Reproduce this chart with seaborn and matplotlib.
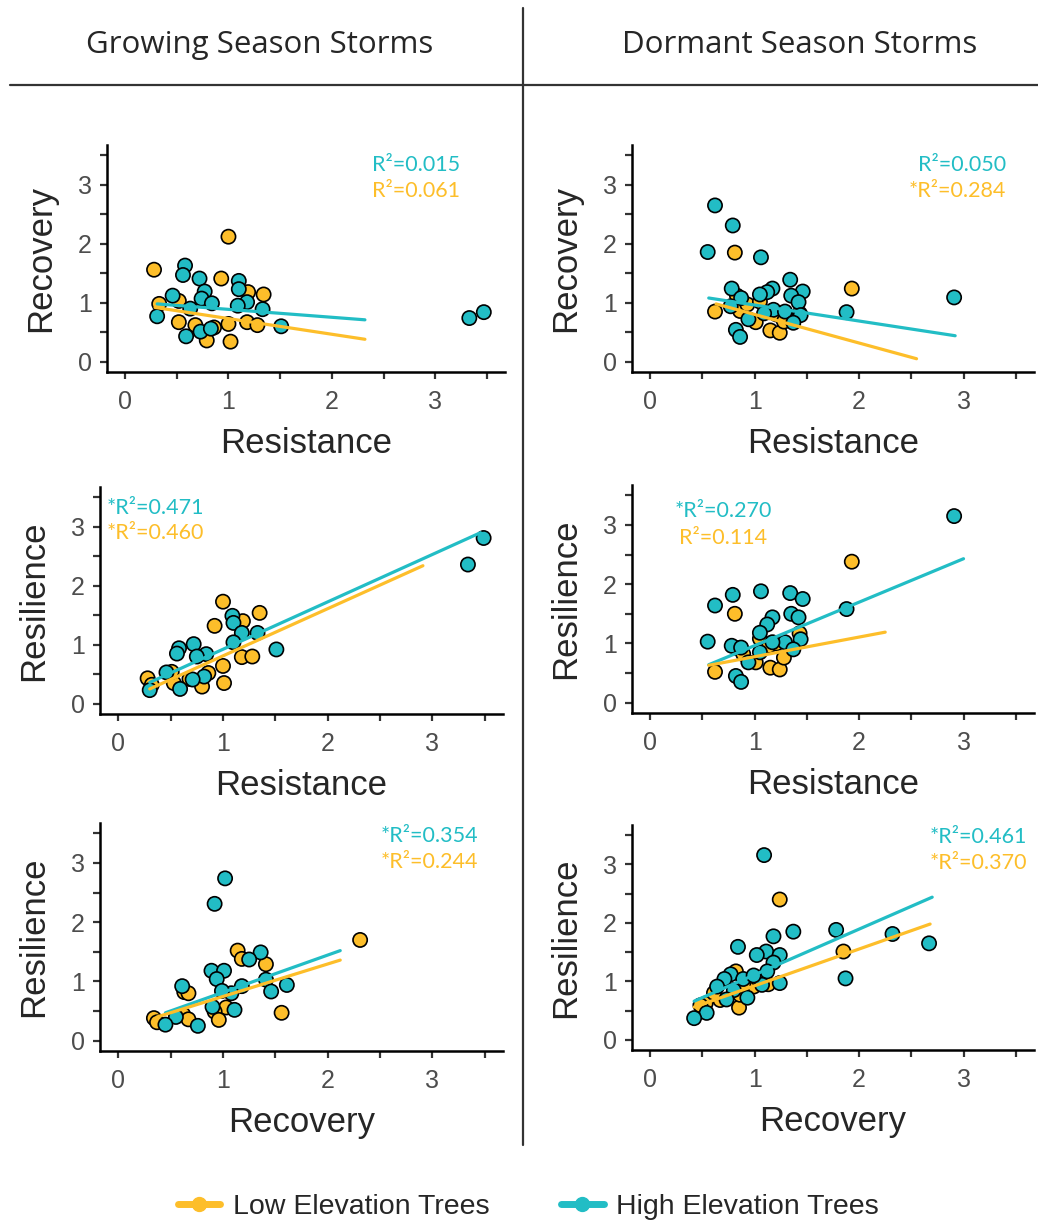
import numpy as np
import pandas as pd
import matplotlib
matplotlib.use("Agg")
import matplotlib.pyplot as plt
from matplotlib.lines import Line2D
import seaborn as sns

LOW = "#FDBE2A"
HIGH = "#22BDC5"

# --- Growing season: Resistance vs Recovery
p1_low_x = [0.28, 1.00, 0.33, 0.52, 0.93, 1.19, 1.34, 0.52, 0.68, 0.86, 0.79, 1.00, 1.02, 1.18, 1.28]
p1_low_y = [1.56, 2.12, 0.98, 1.03, 1.41, 1.18, 1.14, 0.67, 0.62, 0.58, 0.36, 0.64, 0.34, 0.67, 0.62]
p1_high_x = [0.31, 0.58, 0.56, 0.72, 0.46, 0.77, 0.74, 0.84, 0.63, 1.10, 1.10, 1.18, 1.09, 1.33, 1.51, 0.59, 0.73, 0.83, 3.33, 3.47]
p1_high_y = [0.77, 1.63, 1.47, 1.41, 1.12, 1.19, 1.07, 0.99, 0.90, 1.37, 1.23, 1.01, 0.95, 0.89, 0.60, 0.43, 0.51, 0.56, 0.74, 0.84]
p1_fit_high = ([0.31, 2.32], [0.98, 0.71])
p1_fit_low = ([0.29, 2.32], [0.92, 0.38])
p1_r2 = ["R\u00b2=0.015", "R\u00b2=0.061"]

# --- Dormant season: Resistance vs Recovery
p2_low_x = [0.81, 1.93, 0.62, 0.83, 0.86, 0.93, 1.05, 1.01, 1.14, 1.21, 1.15, 1.24, 1.43, 1.28]
p2_low_y = [1.85, 1.24, 0.85, 1.12, 0.86, 0.97, 1.02, 0.67, 0.84, 0.80, 0.53, 0.49, 0.82, 0.68]
p2_high_x = [0.62, 0.79, 0.55, 1.06, 1.34, 0.78, 1.46, 1.17, 1.12, 1.05, 1.35, 1.42, 0.87, 0.77, 1.88, 2.91, 0.82, 0.86, 0.94, 1.18, 1.29, 1.44, 1.37, 1.09]
p2_high_y = [2.65, 2.31, 1.86, 1.77, 1.39, 1.24, 1.19, 1.24, 1.18, 1.14, 1.12, 1.01, 1.08, 0.94, 0.84, 1.09, 0.54, 0.42, 0.72, 0.88, 0.85, 0.79, 0.66, 0.82]
p2_fit_high = ([0.56, 2.92], [1.08, 0.44])
p2_fit_low = ([0.63, 2.55], [0.98, 0.05])
p2_r2 = ["R\u00b2=0.050", "*R\u00b2=0.284"]

# --- Growing season: Resistance vs Resilience
p3_low_x = [1.00, 1.35, 1.19, 0.92, 1.18, 1.28, 1.00, 1.01, 0.80, 0.68, 0.53, 0.28, 0.32, 0.86, 0.51]
p3_low_y = [1.73, 1.54, 1.40, 1.32, 0.79, 0.80, 0.64, 0.35, 0.29, 0.42, 0.35, 0.43, 0.32, 0.52, 0.54]
p3_high_x = [3.49, 3.34, 1.09, 1.10, 1.18, 1.33, 1.10, 1.51, 0.72, 0.58, 0.56, 0.84, 0.75, 0.46, 0.82, 0.59, 0.30, 0.71]
p3_high_y = [2.81, 2.36, 1.49, 1.37, 1.20, 1.20, 1.04, 0.92, 1.01, 0.94, 0.85, 0.84, 0.80, 0.53, 0.46, 0.25, 0.23, 0.41]
p3_fit_high = ([0.30, 3.46], [0.36, 2.90])
p3_fit_low = ([0.30, 2.91], [0.25, 2.34])
p3_r2 = ["*R\u00b2=0.471", "*R\u00b2=0.460"]

# --- Dormant season: Resistance vs Resilience
p4_low_x = [1.93, 0.81, 0.62, 1.05, 1.14, 0.83, 1.21, 1.43, 1.01, 1.15, 1.24, 1.28, 0.89]
p4_low_y = [2.38, 1.50, 0.52, 1.08, 0.96, 0.92, 1.00, 1.17, 0.68, 0.59, 0.56, 0.76, 0.82]
p4_high_x = [2.91, 1.88, 0.55, 0.62, 0.79, 1.06, 1.34, 1.46, 1.35, 1.42, 1.17, 1.12, 1.05, 0.78, 0.87, 0.94, 0.82, 0.87, 1.44, 1.29, 1.17, 1.05, 1.37]
p4_high_y = [3.15, 1.58, 1.03, 1.64, 1.82, 1.88, 1.85, 1.75, 1.50, 1.44, 1.44, 1.32, 1.18, 0.96, 0.93, 0.68, 0.45, 0.35, 1.07, 1.02, 1.02, 0.85, 0.90]
p4_fit_high = ([0.56, 3.00], [0.64, 2.43])
p4_fit_low = ([0.56, 2.25], [0.63, 1.19])
p4_r2 = ["*R\u00b2=0.270", "R\u00b2=0.114"]

# --- Growing season: Recovery vs Resilience
p5_low_x = [2.31, 1.14, 1.18, 1.41, 0.63, 0.67, 0.62, 0.67, 1.03, 0.92, 0.96, 1.56, 0.34, 0.37]
p5_low_y = [1.70, 1.52, 1.38, 1.29, 0.82, 0.80, 0.44, 0.36, 0.56, 0.49, 0.35, 0.47, 0.38, 0.31]
p5_high_x = [1.02, 0.92, 1.36, 1.25, 0.89, 1.01, 0.94, 1.41, 1.61, 1.46, 1.18, 1.08, 0.99, 0.61, 0.90, 1.11, 0.55, 0.45, 0.76]
p5_high_y = [2.74, 2.31, 1.49, 1.37, 1.18, 1.18, 1.04, 1.03, 0.94, 0.83, 0.92, 0.80, 0.84, 0.92, 0.57, 0.52, 0.40, 0.27, 0.25]
p5_fit_high = ([0.45, 2.12], [0.47, 1.52])
p5_fit_low = ([0.37, 2.12], [0.40, 1.36])
p5_r2 = ["*R\u00b2=0.354", "*R\u00b2=0.244"]

# --- Dormant season: Recovery vs Resilience
p6_low_x = [1.24, 1.85, 0.82, 0.85, 1.13, 0.86, 0.99, 0.67, 0.53, 0.48, 0.61, 0.89, 1.02]
p6_low_y = [2.40, 1.51, 1.17, 0.55, 0.95, 0.77, 0.91, 0.68, 0.62, 0.59, 0.80, 0.94, 1.06]
p6_high_x = [1.09, 1.37, 1.78, 2.32, 2.67, 1.18, 0.84, 1.11, 1.02, 1.24, 1.18, 1.12, 1.87, 1.24, 1.07, 0.77, 0.71, 0.64, 0.80, 0.73, 0.93, 0.54, 0.42, 0.89, 0.99]
p6_high_y = [3.16, 1.85, 1.88, 1.81, 1.65, 1.77, 1.59, 1.51, 1.45, 1.45, 1.32, 1.17, 1.05, 0.97, 0.94, 1.12, 1.04, 0.91, 0.85, 0.69, 0.72, 0.46, 0.37, 1.04, 1.10]
p6_fit_high = ([0.42, 2.70], [0.66, 2.44])
p6_fit_low = ([0.42, 2.68], [0.56, 1.98])
p6_r2 = ["*R\u00b2=0.461", "*R\u00b2=0.370"]

col_titles = ["Growing Season Storms", "Dormant Season Storms"]
legend_labels = ["Low Elevation Trees", "High Elevation Trees"]

sns.set_theme(style="ticks")
plt.rcParams["font.family"] = ["Liberation Sans", "DejaVu Sans"]

W, H = 1038, 1224
fig = plt.figure(figsize=(W / 100, H / 100), dpi=100)


def px_axes(left, right, top, bottom):
    return fig.add_axes([left / W, 1 - bottom / H, (right - left) / W, (bottom - top) / H])


panels = [
    dict(box=(107, 505, 145, 372), low=(p1_low_x, p1_low_y), high=(p1_high_x, p1_high_y),
         fl=p1_fit_low, fh=p1_fit_high, r2=p1_r2, xl="Resistance", yl="Recovery",
         tpos=(3.24, 3.34, 2.89), ha="right"),
    dict(box=(632, 1034, 145, 372), low=(p2_low_x, p2_low_y), high=(p2_high_x, p2_high_y),
         fl=p2_fit_low, fh=p2_fit_high, r2=p2_r2, xl="Resistance", yl="Recovery",
         tpos=(3.41, 3.34, 2.89), ha="right"),
    dict(box=(100, 503, 487, 714), low=(p3_low_x, p3_low_y), high=(p3_high_x, p3_high_y),
         fl=p3_fit_low, fh=p3_fit_high, r2=p3_r2, xl="Resistance", yl="Resilience",
         tpos=(-0.11, 3.32, 2.90), ha="left"),
    dict(box=(632, 1034, 485, 713), low=(p4_low_x, p4_low_y), high=(p4_high_x, p4_high_y),
         fl=p4_fit_low, fh=p4_fit_high, r2=p4_r2, xl="Resistance", yl="Resilience",
         tpos=(0.70, 3.23, 2.78), ha="center"),
    dict(box=(100, 503, 823, 1051), low=(p5_low_x, p5_low_y), high=(p5_high_x, p5_high_y),
         fl=p5_fit_low, fh=p5_fit_high, r2=p5_r2, xl="Recovery", yl="Resilience",
         tpos=(3.44, 3.45, 3.01), ha="right"),
    dict(box=(632, 1034, 825, 1050), low=(p6_low_x, p6_low_y), high=(p6_high_x, p6_high_y),
         fl=p6_fit_low, fh=p6_fit_high, r2=p6_r2, xl="Recovery", yl="Resilience",
         tpos=(3.61, 3.47, 3.03), ha="right"),
]

ticks = np.arange(0, 3.51, 0.5)
for p in panels:
    ax = px_axes(*p["box"])
    df = pd.concat([
        pd.DataFrame({"x": p["low"][0], "y": p["low"][1], "grp": "low"}),
        pd.DataFrame({"x": p["high"][0], "y": p["high"][1], "grp": "high"}),
    ])
    sns.scatterplot(data=df, x="x", y="y", hue="grp", palette={"low": LOW, "high": HIGH},
                    s=105, edgecolor="black", linewidth=1.2, legend=False, ax=ax, zorder=2)
    sns.lineplot(x=p["fh"][0], y=p["fh"][1], color=HIGH, lw=2.3, ax=ax, zorder=3)
    sns.lineplot(x=p["fl"][0], y=p["fl"][1], color=LOW, lw=2.3, ax=ax, zorder=3)
    ax.set_xlim(-0.175, 3.675)
    ax.set_ylim(-0.175, 3.675)
    ax.set_xticks(ticks)
    ax.set_yticks(ticks)
    lab = [str(int(t)) if t == int(t) else "" for t in ticks]
    ax.set_xticklabels(lab)
    ax.set_yticklabels(lab)
    ax.tick_params(length=5, width=1.6, color="#333333", labelsize=18, labelcolor="#4D4D4D")
    ax.tick_params(axis="x", pad=8)
    ax.tick_params(axis="y", pad=6)
    for s in ["left", "bottom"]:
        ax.spines[s].set_linewidth(1.8)
        ax.spines[s].set_color("black")
    sns.despine(ax=ax)
    ax.set_xlabel(p["xl"], fontsize=25, labelpad=9)
    ax.set_ylabel(p["yl"], fontsize=25, labelpad=15)
    tx, ty1, ty2 = p["tpos"]
    ax.text(tx, ty1, p["r2"][0], color=HIGH, fontsize=15.5, ha=p["ha"], va="center", family="Lato")
    ax.text(tx, ty2, p["r2"][1], color=LOW, fontsize=15.5, ha=p["ha"], va="center", family="Lato")

# column headers and separators
fig.text(260 / W, 1 - 45 / H, col_titles[0], fontsize=22.5, ha="center", va="center", family="Open Sans")
fig.text(800 / W, 1 - 45 / H, col_titles[1], fontsize=22.5, ha="center", va="center", family="Open Sans")
fig.add_artist(Line2D([10 / W, 1.0], [1 - 85 / H, 1 - 85 / H], color="#333333", lw=1.6))
fig.add_artist(Line2D([523 / W, 523 / W], [1 - 8 / H, 1 - 1145 / H], color="#333333", lw=1.6))

handles = [Line2D([], [], color=LOW, lw=5, marker="o", markersize=10),
           Line2D([], [], color=HIGH, lw=5, marker="o", markersize=10)]
fig.legend(handles, legend_labels, loc="center", bbox_to_anchor=(0.509, 1 - 1207 / H), ncol=2,
           frameon=False, fontsize=20.5, handlelength=1.5, columnspacing=2.5, handletextpad=0.45)

fig.savefig("out.png", dpi=100)
